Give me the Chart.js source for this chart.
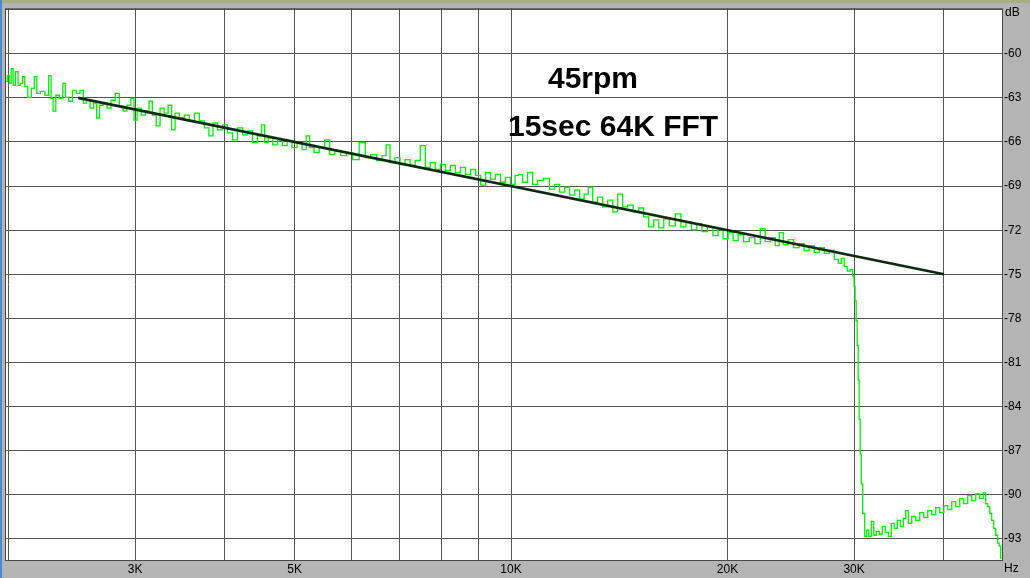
<!DOCTYPE html>
<html>
<head>
<meta charset="utf-8">
<script src="https://cdn.jsdelivr.net/npm/chart.js@4/dist/chart.umd.min.js"></script>
<style>
  html, body { margin: 0; padding: 0; background: #b4b4b4; }
  #spec { display: block; }
</style>
</head>
<body>
<canvas id="spec" width="1030" height="578"></canvas>
<script>
// spectrum: frequency (Hz) and level (dB)
const freqHz = [
    1985, 2000, 2010, 2025, 2035, 2055, 2070, 2085, 2100, 2115,
    2140, 2165, 2180, 2200, 2230, 2265, 2285, 2300, 2315, 2340,
    2370, 2390, 2410, 2440, 2470, 2500, 2530, 2555, 2580, 2615,
    2640, 2665, 2690, 2725, 2760, 2795, 2835, 2870, 2905, 2940,
    2980, 3000, 3040, 3080, 3125, 3150, 3190, 3230, 3270, 3315,
    3355, 3390, 3430, 3485, 3540, 3600, 3655, 3715, 3775, 3825,
    3875, 3940, 4000, 4065, 4130, 4200, 4270, 4335, 4405, 4475,
    4520, 4565, 4625, 4700, 4770, 4845, 4920, 5000, 5080, 5165,
    5215, 5280, 5365, 5455, 5560, 5630, 5740, 5850, 5965, 6080,
    6220, 6320, 6440, 6565, 6670, 6735, 6840, 6950, 7065, 7180,
    7295, 7415, 7540, 7660, 7780, 7910, 8040, 8170, 8300, 8440,
    8575, 8715, 8860, 9000, 9150, 9290, 9440, 9590, 9745, 9905,
    10065, 10195, 10290, 10460, 10630, 10800, 10975, 11220, 11400, 11590,
    11780, 11970, 12160, 12360, 12560, 12720, 12890, 13090, 13300, 13520,
    13740, 13960, 14180, 14410, 14650, 14930, 15170, 15410, 15670, 15920,
    16180, 16440, 16760, 17090, 17370, 17650, 17990, 18280, 18580, 18940,
    19250, 19560, 19880, 20200, 20530, 20860, 21270, 21620, 22050, 22380,
    22750, 23120, 23490, 23720, 24100, 24480, 24960, 25360, 25770, 26190,
    26620, 27050, 27490, 27930, 28390, 28650, 28930, 29200, 29490, 29770,
    29960, 30040, 30150, 30250, 30350, 30445, 30545, 30645, 30740, 30940,
    31140, 31340, 31540, 31850, 32050, 32360, 32670, 32990, 33310, 33630,
    33960, 34290, 34620, 34950, 35290, 35510, 35850, 36320, 36790, 37260,
    37740, 38230, 38720, 39220, 39730, 40240, 40760, 41280, 41810, 42350,
    42900, 43450, 44010, 44570, 45150, 45580, 45870, 46170, 46460, 46760,
    47060, 47360, 47670, 47820, 48130
];
const levelDb = [
    -61.88, -61.48, -62.02, -61.01, -62.15, -61.21, -62.15, -62.02, -61.55, -62.22,
    -62.96, -62.35, -61.55, -62.69, -62.56, -62.82, -61.48, -63.03, -63.90, -62.82,
    -63.03, -62.02, -62.96, -63.23, -62.49, -62.69, -62.49, -63.36, -63.16, -63.70,
    -63.36, -64.37, -63.50, -63.36, -63.70, -63.16, -62.69, -63.57, -63.90, -63.50,
    -63.03, -64.51, -63.70, -64.17, -63.90, -63.23, -64.17, -64.91, -63.70, -64.03,
    -63.50, -65.18, -64.03, -64.37, -64.17, -64.57, -64.03, -64.57, -65.04, -65.58,
    -64.71, -65.18, -64.84, -65.38, -65.85, -65.04, -65.51, -65.25, -66.05, -65.58,
    -64.84, -66.05, -65.72, -66.19, -65.85, -66.25, -65.92, -66.39, -66.05, -66.52,
    -65.58, -66.39, -66.73, -66.39, -65.85, -66.86, -66.59, -66.93, -66.73, -67.20,
    -66.05, -67.06, -66.86, -67.26, -66.93, -66.19, -67.40, -67.06, -67.53, -67.20,
    -67.60, -67.26, -66.25, -67.73, -67.40, -67.87, -67.53, -67.94, -67.60, -68.07,
    -67.73, -68.20, -67.87, -68.27, -68.94, -68.07, -68.54, -68.20, -68.74, -68.41,
    -68.88, -68.27, -68.20, -68.74, -68.07, -68.88, -68.61, -68.47, -69.21, -68.88,
    -69.41, -69.08, -69.62, -69.28, -69.89, -69.55, -69.08, -70.09, -69.75, -70.42,
    -69.95, -70.76, -69.55, -70.42, -70.29, -70.76, -70.49, -71.10, -71.77, -71.30,
    -71.84, -71.23, -71.70, -70.89, -71.77, -71.43, -71.97, -71.57, -72.10, -71.77,
    -72.37, -71.97, -72.58, -72.17, -72.71, -72.31, -72.78, -72.51, -72.91, -71.90,
    -72.78, -72.51, -73.05, -72.17, -72.98, -72.64, -73.18, -72.91, -73.38, -73.05,
    -73.51, -73.18, -73.58, -73.38, -73.99, -74.26, -73.92, -74.46, -74.79, -74.66,
    -75.13, -75.80, -76.81, -78.16, -79.84, -82.19, -84.88, -87.23, -89.25, -91.27,
    -92.82, -92.41, -92.82, -91.81, -92.75, -92.48, -92.68, -92.15, -92.55, -92.82,
    -91.94, -92.28, -91.74, -92.15, -91.61, -91.07, -91.94, -91.47, -91.74, -91.21,
    -91.54, -91.07, -91.34, -90.87, -91.21, -90.73, -91.00, -90.46, -90.80, -90.26,
    -90.60, -90.06, -90.40, -89.93, -90.26, -89.86, -90.60, -90.80, -91.27, -91.74,
    -92.28, -92.75, -93.29, -93.49, -94.30
];

// straight reference line (3 dB per octave)
const trendHz = [2500, 40000];
const trendDb = [-63, -75];

// grid lines and tick labels
const xGridHz = [2000, 3000, 4000, 5000, 6000, 7000, 8000, 9000, 10000, 20000, 30000, 40000];
const xTickLabels = { 3000: '3K', 5000: '5K', 10000: '10K', 20000: '20K', 30000: '30K' };
const yGridDb = [-57, -60, -63, -66, -69, -72, -75, -78, -81, -84, -87, -90, -93];
const yTickLabels = { '-60': '-60', '-63': '-63', '-66': '-66', '-69': '-69', '-72': '-72', '-75': '-75',
    '-78': '-78', '-81': '-81', '-84': '-84', '-87': '-87', '-90': '-90', '-93': '-93' };

const gridColor = '#555555';
const labelFont = { family: 'Liberation Sans', size: 12 };

const frame = {
    id: 'frame',
    beforeDraw(chart) {
        const { ctx, chartArea: a } = chart;
        ctx.save();
        ctx.fillStyle = '#b4b4b4';
        ctx.fillRect(0, 0, chart.width, chart.height);
        ctx.fillStyle = '#a7ae80';
        ctx.fillRect(0, 0, chart.width, 3);
        ctx.fillStyle = '#4f87cf';
        ctx.fillRect(0, 0, 2, chart.height);
        ctx.fillStyle = '#ffffff';
        ctx.fillRect(a.left, a.top, a.right - a.left, a.bottom - a.top);
        ctx.restore();
    },
    afterDraw(chart) {
        const { ctx, chartArea: a } = chart;
        ctx.save();
        ctx.strokeStyle = '#4a4a4a';
        ctx.lineWidth = 1;
        ctx.strokeRect(a.left + 0.5, a.top + 0.5, a.right - a.left - 1, a.bottom - a.top - 1);
        ctx.fillStyle = '#000';
        ctx.font = '12px "Liberation Sans"';
        ctx.textBaseline = 'middle';
        ctx.textAlign = 'left';
        ctx.fillText('dB', a.right + 2, 13);
        ctx.fillText('Hz', a.right + 1, 569);
        ctx.font = 'bold 30px "Liberation Sans"';
        ctx.textBaseline = 'alphabetic';
        ctx.fillText('45rpm', 548, 88);
        ctx.fillText('15sec 64K FFT', 508, 136);
        ctx.restore();
    }
};

new Chart(document.getElementById('spec'), {
    type: 'line',
    data: {
        datasets: [{
            label: 'trend',
            data: trendHz.map((f, i) => ({ x: f, y: trendDb[i] })),
            borderColor: '#0c2a12',
            borderWidth: 2.6,
            pointRadius: 0,
            fill: false
        }, {
            label: 'spectrum',
            data: freqHz.map((f, i) => ({ x: f, y: levelDb[i] })),
            borderColor: '#00f000',
            borderWidth: 1.3,
            pointRadius: 0,
            stepped: 'middle',
            fill: false
        }]
    },
    options: {
        responsive: false,
        animation: false,
        layout: { padding: { left: 5, top: 4, right: 0, bottom: 0 } },
        plugins: { legend: { display: false }, tooltip: { enabled: false } },
        scales: {
            x: {
                type: 'logarithmic',
                min: 1978,
                max: 48330,
                afterBuildTicks: s => { s.ticks = xGridHz.map(v => ({ value: v })); },
                afterFit: s => { s.height = 17; },
                grid: { color: gridColor, drawTicks: false },
                border: { display: false },
                ticks: {
                    autoSkip: false,
                    maxRotation: 0,
                    padding: 1,
                    color: '#000',
                    font: labelFont,
                    callback: v => xTickLabels[v] || ''
                }
            },
            y: {
                position: 'right',
                min: -94.5,
                max: -56.9,
                afterBuildTicks: s => { s.ticks = yGridDb.map(v => ({ value: v })); },
                afterFit: s => { s.width = 27; },
                grid: { color: gridColor, drawTicks: false },
                border: { display: false },
                ticks: {
                    padding: 1,
                    color: '#000',
                    font: labelFont,
                    callback: v => yTickLabels[String(v)] || ''
                }
            }
        }
    },
    plugins: [frame]
});
</script>
</body>
</html>
